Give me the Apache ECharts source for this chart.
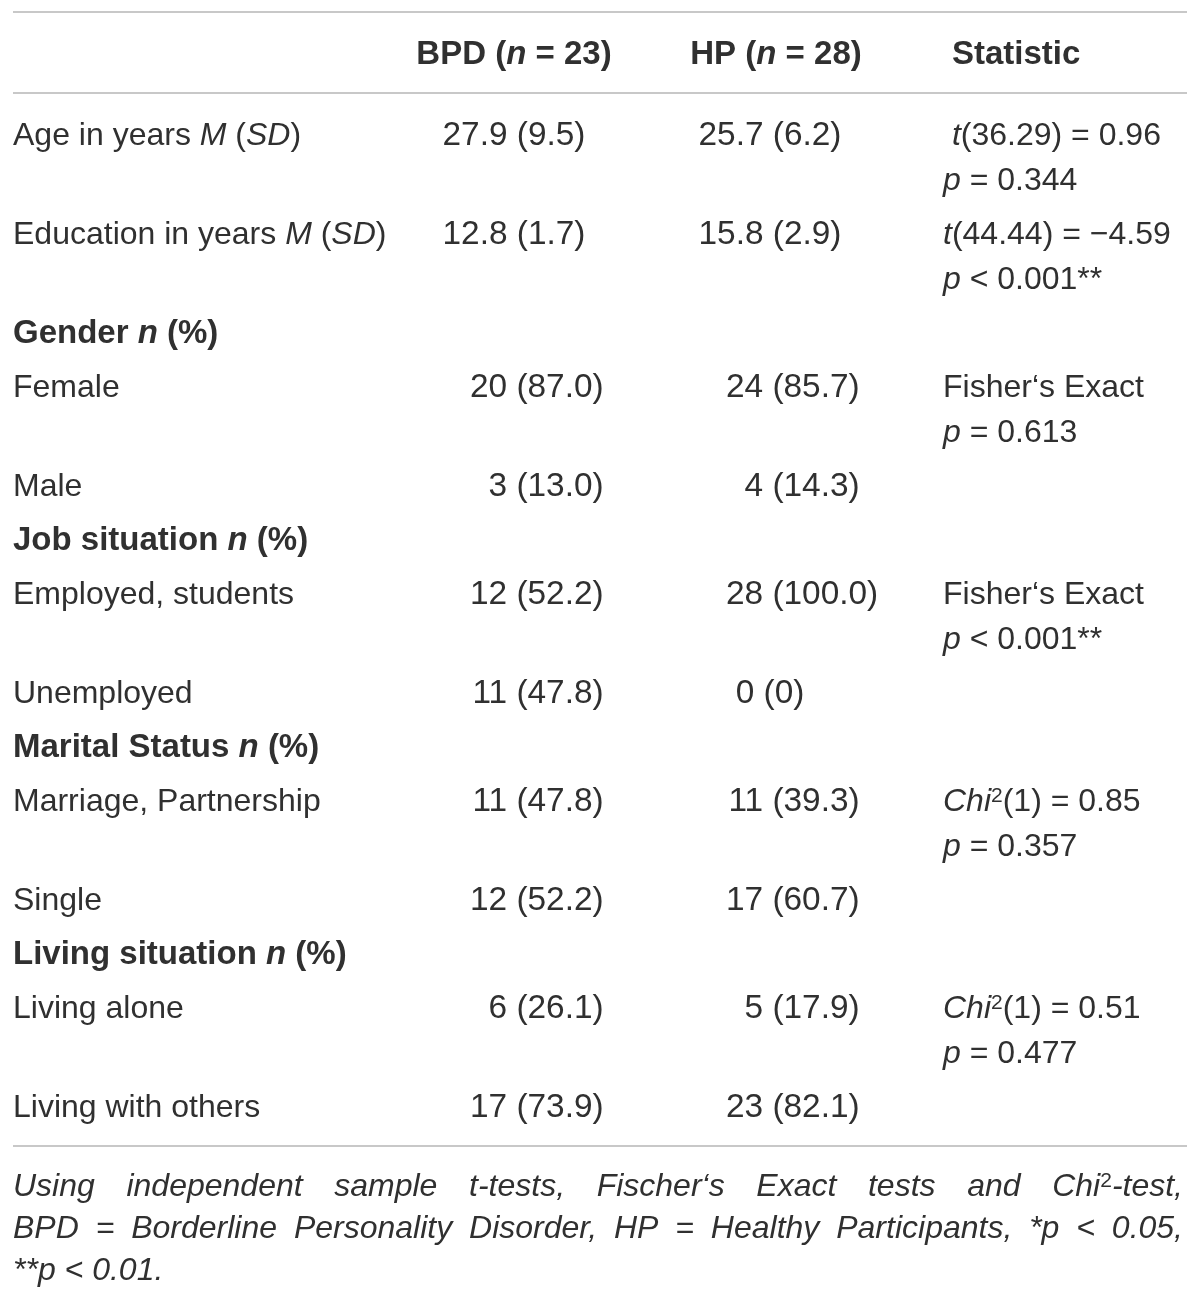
<!DOCTYPE html>
<html>
<head>
<meta charset="utf-8">
<script src="https://cdn.jsdelivr.net/npm/echarts@6/dist/echarts.min.js"></script>
<style>
html,body{margin:0;padding:0;background:#fff;}
#chart{width:1200px;height:1300px;}
</style>
</head>
<body>
<div id="chart"></div>
<script>
// ---------- DATA ----------
const columnHeaders = ['', '{b|BPD (}{bi|n}{b| = 23)}', '{b|HP (}{bi|n}{b| = 28)}', '{b|Statistic}'];
const rowLabels = [
  'Age in years {i|M} ({i|SD})',
  'Education in years {i|M} ({i|SD})',
  '{b|Gender }{bi|n}{b| (%)}',
  'Female',
  'Male',
  '{b|Job situation }{bi|n}{b| (%)}',
  'Employed, students',
  'Unemployed',
  '{b|Marital Status }{bi|n}{b| (%)}',
  'Marriage, Partnership',
  'Single',
  '{b|Living situation }{bi|n}{b| (%)}',
  'Living alone',
  'Living with others'
];
const bpdValues = ['27.9 (9.5)', '12.8 (1.7)', '', '20 (87.0)', '3 (13.0)', '', '12 (52.2)', '11 (47.8)', '', '11 (47.8)', '12 (52.2)', '', '6 (26.1)', '17 (73.9)'];
const hpValues  = ['25.7 (6.2)', '15.8 (2.9)', '', '24 (85.7)', '4 (14.3)', '', '28 (100.0)', '0 (0)', '', '11 (39.3)', '17 (60.7)', '', '5 (17.9)', '23 (82.1)'];
const statLine1 = [' {i|t}(36.29) = 0.96', '{i|t}(44.44) = \u22124.59', '', 'Fisher\u2018s Exact', '', '', 'Fisher\u2018s Exact', '', '', '{i|Chi}\u00b2(1) = 0.85', '', '', '{i|Chi}\u00b2(1) = 0.51', ''];
const statLine2 = ['{i|p} = 0.344', '{i|p} < 0.001**', '', '{i|p} = 0.613', '', '', '{i|p} < 0.001**', '', '', '{i|p} = 0.357', '', '', '{i|p} = 0.477', ''];
const footnoteLines = [
  'Using independent sample t-tests, Fischer\u2018s Exact tests and Chi\u00b2-test,',
  'BPD = Borderline Personality Disorder, HP = Healthy Participants, *p < 0.05,',
  '**p < 0.01.'
];
const footnoteJustified = [true, true, false];

// ---------- LAYOUT / STYLE ----------
const FONT = '"Liberation Sans", Arial, Helvetica, sans-serif';
const FS = 32, FS_B = 33, FS_NUM = 33.4, FS_SUP = 21;
const COLOR = '#303030';
const RULE_COLOR = '#c8c8c8';
const LEFT = 13, RIGHT = 1187;
const TOP_RULE = 12, HEADER_Y = 52, MID_RULE = 93;
const FIRST_ROW = 133, LINE_GAP = 45, ROW_GAP = 54;
const FOOT_GAP = 42;
const TEXT_SHIFT = 3;
const COL_LABEL = 13, COL_BPD_C = 514, COL_HP_C = 770, HEAD_HP_C = 776, COL_STAT = 943, HEAD_STAT = 952;
const BPD_COUNT_LEFT = 470, HP_COUNT_LEFT = 726;

function richSet(size, italicBase) {
  return {
    i:   {fontSize: size, fontFamily: FONT, fill: COLOR, fontStyle: 'italic'},
    n:   {fontSize: size, fontFamily: FONT, fill: COLOR, fontStyle: italicBase ? 'italic' : 'normal'},
    b:   {fontSize: FS_B, fontFamily: FONT, fill: COLOR, fontWeight: 'bold'},
    bi:  {fontSize: FS_B, fontFamily: FONT, fill: COLOR, fontWeight: 'bold', fontStyle: 'italic'},
    sup: {fontSize: FS_SUP, fontFamily: FONT, fill: COLOR, verticalAlign: 'top', lineHeight: FS_SUP}
  };
}
function supify(t) { return t.replace(/\u00b2/g, '{sup|2}'); }

const measureCanvas = document.createElement('canvas').getContext('2d');
function textWidth(t, font) { measureCanvas.font = font; return measureCanvas.measureText(t).width; }

// ---------- BUILD CELLS ----------
const cells = [];
function addCell(x, y, text, align, opt) {
  opt = opt || {};
  cells.push({x, y, text: supify(text), align: align || 'left', italic: !!opt.italic, size: opt.size || FS});
}

addCell(COL_BPD_C, HEADER_Y, columnHeaders[1], 'center');
addCell(HEAD_HP_C, HEADER_Y, columnHeaders[2], 'center');
addCell(HEAD_STAT, HEADER_Y, columnHeaders[3], 'left');

const digitW = textWidth('00', FS_NUM + 'px ' + FONT);
let y = FIRST_ROW;
const rowY = [];
for (let r = 0; r < rowLabels.length; r++) {
  rowY.push(y);
  addCell(COL_LABEL, y, rowLabels[r], 'left');
  [[bpdValues[r], COL_BPD_C, BPD_COUNT_LEFT], [hpValues[r], COL_HP_C, HP_COUNT_LEFT]].forEach(([v, cx, cl]) => {
    if (!v) return;
    if (v.indexOf('.') < v.indexOf(' ')) { // mean (SD)
      addCell(cx, y, v, 'center', {size: FS_NUM});
    } else { // count (percent), aligned on the count digits
      const sp = v.indexOf(' ');
      const anchor = cl + digitW;
      addCell(anchor, y, v.slice(0, sp), 'right', {size: FS_NUM});
      addCell(anchor, y, v.slice(sp), 'left', {size: FS_NUM});
    }
  });
  if (statLine1[r]) addCell(COL_STAT, y, statLine1[r], 'left');
  if (statLine2[r]) addCell(COL_STAT, y + LINE_GAP, statLine2[r], 'left');
  const lines = statLine2[r] ? 2 : 1;
  y += ROW_GAP + (lines - 1) * LINE_GAP;
}
const BOTTOM_RULE = rowY[rowY.length - 1] + 41;
const rules = [TOP_RULE, MID_RULE, BOTTOM_RULE];

// footnote (justified, italic)
const italicFont = 'italic ' + FS + 'px ' + FONT;
const supFont = FS_SUP + 'px ' + FONT;
function wordWidth(w) {
  const parts = w.split('\u00b2');
  let total = 0;
  parts.forEach((p, i) => { total += textWidth(p, italicFont); if (i < parts.length - 1) total += textWidth('2', supFont); });
  return total;
}
footnoteLines.forEach((line, li) => {
  const fy = BOTTOM_RULE + 38 + li * FOOT_GAP;
  const words = line.split(' ');
  if (!footnoteJustified[li]) { addCell(LEFT, fy, line, 'left', {italic: true}); return; }
  const widths = words.map(wordWidth);
  const total = widths.reduce((a, b) => a + b, 0);
  const gap = (RIGHT - 4 - LEFT - total) / (words.length - 1);
  let x = LEFT;
  words.forEach((w, i) => { addCell(x, fy, w, 'left', {italic: true}); x += widths[i] + gap; });
});

// ---------- CHART ----------
const chart = echarts.init(document.getElementById('chart'), null, {renderer: 'canvas'});
chart.setOption({
  backgroundColor: '#ffffff',
  animation: false,
  grid: {left: 0, right: 0, top: 0, bottom: 0},
  xAxis: {type: 'value', min: 0, max: 1200, show: false},
  yAxis: {type: 'value', min: 0, max: 1300, inverse: true, show: false},
  series: [
    {
      type: 'custom',
      silent: true,
      data: rules.map(r => [LEFT, r]),
      renderItem: function (params, api) {
        const p1 = api.coord([LEFT, api.value(1)]);
        const p2 = api.coord([RIGHT, api.value(1)]);
        return {type: 'line', shape: {x1: p1[0], y1: p1[1], x2: p2[0], y2: p2[1]},
                style: {stroke: RULE_COLOR, lineWidth: 2}};
      }
    },
    {
      type: 'custom',
      silent: true,
      data: cells.map(c => [c.x, c.y]),
      renderItem: function (params, api) {
        const c = cells[params.dataIndex];
        const p = api.coord([api.value(0), api.value(1)]);
        const hasRich = c.text.indexOf('{') >= 0;
        const text = hasRich ? c.text.replace(/(^|\})([^{}]+)(?=\{|$)/g, (m, a, b) => a + '{n|' + b + '}') : c.text;
        return {
          type: 'text', x: p[0], y: p[1] + TEXT_SHIFT,
          style: {
            text: text, rich: richSet(c.size, c.italic),
            fontSize: c.size, fontFamily: FONT, fill: COLOR,
            fontStyle: c.italic ? 'italic' : 'normal',
            align: c.align, verticalAlign: 'middle'
          }
        };
      }
    }
  ]
});
</script>
</body>
</html>
